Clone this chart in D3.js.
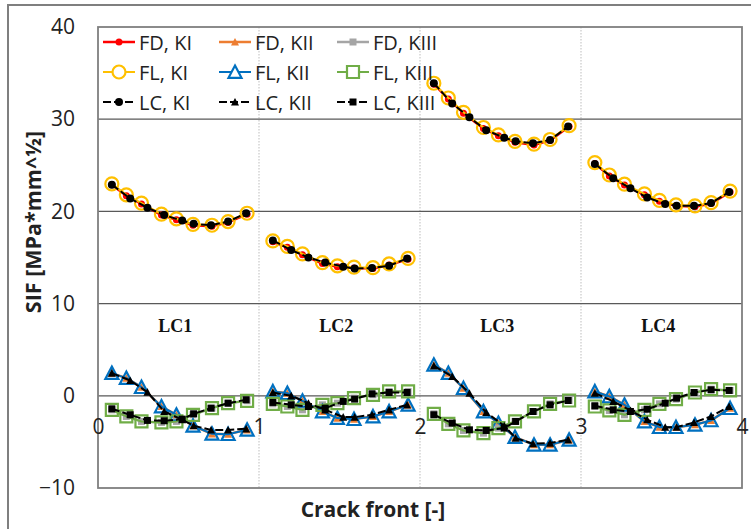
<!DOCTYPE html>
<html>
<head>
<meta charset="utf-8">
<script src="https://cdn.jsdelivr.net/npm/d3@7"></script>
<style>
  html, body { margin: 0; padding: 0; background: #fff; }
  svg { display: block; }
  .tick text { font-family: "Open Sans", sans-serif; font-size: 21px; fill: #222; }
</style>
</head>
<body>
<svg id="chart" width="751" height="529"></svg>
<script>
// Load cases along the crack front
const cases = ["LC1", "LC2", "LC3", "LC4"];
const xTicks = [0, 1, 2, 3, 4];
const yTicks = [-10, 0, 10, 20, 30, 40];

// Normalised node positions inside one crack-front segment
const nodesF = [0.086, 0.176, 0.27, 0.394, 0.487, 0.59, 0.708, 0.808, 0.926];
const nodesLC = [0.086, 0.2, 0.307, 0.411, 0.523, 0.594, 0.702, 0.808, 0.92];

// FD results, one row per load case
const FD_KI = [
  [22.9, 21.7, 20.8, 19.6, 19.1, 18.5, 18.4, 18.8, 19.7],
  [16.7, 16.1, 15.3, 14.35, 14.0, 13.85, 13.8, 14.2, 14.8],
  [33.8, 32.2, 30.65, 29.0, 28.2, 27.5, 27.2, 27.7, 29.2],
  [25.2, 23.85, 22.85, 21.8, 21.1, 20.6, 20.5, 20.85, 22.1]
];
const FD_KII = [
  [2.46, 1.92, 0.94, -1.16, -2.06, -3.25, -4.12, -4.16, -3.69],
  [0.47, 0.29, -0.54, -1.7, -2.42, -2.53, -2.24, -1.7, -0.98],
  [3.36, 2.46, 0.83, -1.7, -2.96, -4.48, -5.31, -5.31, -4.77],
  [0.47, -0.07, -0.98, -2.78, -3.4, -3.4, -3.14, -2.67, -1.34]
];
const FD_KIII = [
  [-1.52, -2.24, -2.78, -2.89, -2.78, -2.06, -1.34, -0.8, -0.54],
  [-0.87, -1.16, -1.52, -0.98, -0.8, -0.25, 0.11, 0.47, 0.47],
  [-1.95, -3.04, -3.76, -4.05, -3.5, -2.78, -1.7, -0.87, -0.51],
  [-1.16, -1.59, -2.06, -1.52, -0.87, -0.36, 0.36, 0.72, 0.58]
];

// FL results
const FL_KI = [
  [22.98, 21.8, 20.9, 19.7, 19.2, 18.6, 18.5, 18.9, 19.8],
  [16.8, 16.2, 15.4, 14.45, 14.1, 13.95, 13.9, 14.3, 14.9],
  [33.9, 32.3, 30.75, 29.1, 28.3, 27.6, 27.3, 27.8, 29.3],
  [25.3, 23.95, 22.95, 21.9, 21.2, 20.7, 20.6, 20.95, 22.2]
];
const FL_KII = [
  [2.46, 1.92, 0.94, -1.16, -2.06, -3.25, -4.12, -4.16, -3.69],
  [0.47, 0.29, -0.54, -1.7, -2.42, -2.53, -2.24, -1.7, -0.98],
  [3.36, 2.46, 0.83, -1.7, -2.96, -4.48, -5.31, -5.31, -4.77],
  [0.47, -0.07, -0.98, -2.78, -3.4, -3.4, -3.14, -2.67, -1.34]
];
const FL_KIII = [
  [-1.52, -2.24, -2.78, -2.89, -2.78, -2.06, -1.34, -0.8, -0.54],
  [-0.87, -1.16, -1.52, -0.98, -0.8, -0.25, 0.11, 0.47, 0.47],
  [-1.95, -3.04, -3.76, -4.05, -3.5, -2.78, -1.7, -0.87, -0.51],
  [-1.16, -1.59, -2.06, -1.52, -0.87, -0.36, 0.36, 0.72, 0.58]
];

// LC results
const LC_KI = [
  [22.9, 21.4, 20.4, 19.6, 19.0, 18.65, 18.5, 18.9, 19.8],
  [16.85, 15.8, 15.0, 14.45, 14.0, 13.8, 13.85, 14.1, 14.9],
  [33.9, 31.7, 30.2, 28.8, 28.0, 27.6, 27.4, 27.75, 29.2],
  [25.15, 23.6, 22.5, 21.5, 20.8, 20.6, 20.6, 20.9, 22.1]
];
const LC_KII = [
  [2.46, 1.66, 0.4, -1.7, -2.6, -3.25, -3.7, -3.7, -3.58],
  [0.36, 0.0, -0.8, -1.52, -2.31, -2.31, -2.06, -1.52, -0.98],
  [3.25, 2.1, 0.29, -1.81, -3.25, -4.59, -5.2, -5.13, -4.77],
  [0.29, -0.61, -1.59, -2.6, -3.4, -3.4, -2.89, -2.24, -1.16]
];
const LC_KIII = [
  [-1.41, -2.06, -2.67, -2.71, -2.53, -1.95, -1.34, -0.8, -0.43],
  [-0.72, -0.98, -1.16, -1.34, -0.61, -0.36, 0.22, 0.36, 0.36],
  [-2.06, -2.96, -3.69, -3.76, -3.5, -2.78, -1.7, -0.98, -0.51],
  [-1.08, -1.52, -1.7, -1.45, -0.8, -0.25, 0.36, 0.65, 0.58]
];

const legendLabels = ["FD, KI", "FD, KII", "FD, KIII", "FL, KI", "FL, KII", "FL, KIII", "LC, KI", "LC, KII", "LC, KIII"];

// Series drawing order = legend order
const series = [
  { name: legendLabels[0], data: FD_KI,   nodes: nodesF,  color: "#FF0000", width: 2.5, dash: null,  shape: "circle",   size: 7,  fill: "#FF0000", stroke: "none", sw: 0 },
  { name: legendLabels[1], data: FD_KII,  nodes: nodesF,  color: "#ED7D31", width: 2.5, dash: null,  shape: "triangle", size: 8,  fill: "#ED7D31", stroke: "none", sw: 0 },
  { name: legendLabels[2], data: FD_KIII, nodes: nodesF,  color: "#A5A5A5", width: 2.5, dash: null,  shape: "square",   size: 7,  fill: "#A5A5A5", stroke: "none", sw: 0 },
  { name: legendLabels[3], data: FL_KI,   nodes: nodesF,  color: "#FFC000", width: 2,   dash: null,  shape: "circle",   size: 13, fill: "none", stroke: "#FFC000", sw: 2.2 },
  { name: legendLabels[4], data: FL_KII,  nodes: nodesF,  color: "#0070C0", width: 2,   dash: null,  shape: "triangle", size: 13, fill: "none", stroke: "#0070C0", sw: 2.2 },
  { name: legendLabels[5], data: FL_KIII, nodes: nodesF,  color: "#70AD47", width: 2,   dash: null,  shape: "square",   size: 12, fill: "none", stroke: "#70AD47", sw: 2.2 },
  { name: legendLabels[6], data: LC_KI,   nodes: nodesLC, color: "#000000", width: 2,   dash: "8,3", shape: "circle",   size: 8,  fill: "#000000", stroke: "none", sw: 0 },
  { name: legendLabels[7], data: LC_KII,  nodes: nodesLC, color: "#000000", width: 2,   dash: "8,3", shape: "triangle", size: 8,  fill: "#000000", stroke: "none", sw: 0 },
  { name: legendLabels[8], data: LC_KIII, nodes: nodesLC, color: "#000000", width: 2,   dash: "8,3", shape: "square",   size: 7,  fill: "#000000", stroke: "none", sw: 0 }
];

const svg = d3.select("#chart");
const plot = { left: 98, right: 742, top: 27, bottom: 488 };

const x = d3.scaleLinear().domain([0, 4]).range([plot.left, plot.right]);
const y = d3.scaleLinear().domain([-10, 40]).range([plot.bottom, plot.top]);

// Outer chart frame
svg.append("rect")
  .attr("x", 8).attr("y", 5).attr("width", 800).attr("height", 600)
  .attr("fill", "#fff").attr("stroke", "#7f7f7f").attr("stroke-width", 2);

// Vertical dotted gridlines
svg.append("g").selectAll("line")
  .data(xTicks.filter(t => t > 0 && t < 4))
  .join("line")
  .attr("x1", d => x(d)).attr("x2", d => x(d))
  .attr("y1", plot.top).attr("y2", plot.bottom)
  .attr("stroke", "#c8c8c8").attr("stroke-width", 1.2)
  .attr("stroke-dasharray", "1.5,1.5");

// Horizontal gridlines
svg.append("g").selectAll("line")
  .data(yTicks.filter(t => t > -10 && t < 40))
  .join("line")
  .attr("x1", plot.left).attr("x2", plot.right)
  .attr("y1", d => y(d)).attr("y2", d => y(d))
  .attr("stroke", "#595959").attr("stroke-width", 1.3);

// Plot area border
svg.append("rect")
  .attr("x", plot.left).attr("y", plot.top)
  .attr("width", plot.right - plot.left).attr("height", plot.bottom - plot.top)
  .attr("fill", "none").attr("stroke", "#7f7f7f").attr("stroke-width", 1.8);

// Axes (labels only)
const yAxis = svg.append("g")
  .attr("transform", `translate(${plot.left},0)`)
  .call(d3.axisLeft(y).tickValues(yTicks).tickSize(0).tickPadding(23));
yAxis.select(".domain").remove();

const xAxis = svg.append("g")
  .attr("transform", `translate(0,${y(0)})`)
  .call(d3.axisBottom(x).tickValues(xTicks).tickSize(0).tickPadding(23).tickFormat(d3.format("d")));
xAxis.select(".domain").remove();

// Axis titles
svg.append("text")
  .attr("x", 373).attr("y", 509)
  .attr("text-anchor", "middle").attr("dominant-baseline", "central")
  .attr("font-family", "Open Sans, sans-serif").attr("font-weight", "bold")
  .attr("font-size", 21).attr("fill", "#222")
  .text("Crack front [-]");

svg.append("text")
  .attr("transform", "translate(32,222) rotate(-90)")
  .attr("text-anchor", "middle").attr("dominant-baseline", "central")
  .attr("font-family", "Open Sans, sans-serif").attr("font-weight", "bold")
  .attr("font-size", 21.5).attr("fill", "#222")
  .text("SIF [MPa*mm^½]");

// Load case labels
svg.append("g").selectAll("text")
  .data(cases)
  .join("text")
  .attr("x", (d, i) => x(i + 0.48))
  .attr("y", y(7.6))
  .attr("text-anchor", "middle").attr("dominant-baseline", "central")
  .attr("font-family", "Liberation Serif, serif").attr("font-weight", "bold")
  .attr("font-size", 18).attr("fill", "#111")
  .text(d => d);

// Marker shapes, centred on their bounding box
function markerPath(shape, s) {
  const h = s / 2;
  if (shape === "circle") {
    return `M${-h},0A${h},${h} 0 1,0 ${h},0A${h},${h} 0 1,0 ${-h},0Z`;
  }
  if (shape === "triangle") {
    return `M0,${-h}L${h},${h * 0.9}L${-h},${h * 0.9}Z`;
  }
  return `M${-h},${-h}H${h}V${h}H${-h}Z`;
}

const line = d3.line().x(d => x(d[0])).y(d => y(d[1]));

series.forEach(s => {
  const g = svg.append("g");
  s.data.forEach((vals, ci) => {
    const pts = vals.map((v, i) => [ci + s.nodes[i], v]);
    g.append("path")
      .datum(pts)
      .attr("d", line)
      .attr("fill", "none")
      .attr("stroke", s.color)
      .attr("stroke-width", s.width)
      .attr("stroke-dasharray", s.dash)
      .attr("stroke-linejoin", "round");
    g.selectAll(null)
      .data(pts)
      .join("path")
      .attr("transform", d => `translate(${x(d[0])},${y(d[1])})`)
      .attr("d", markerPath(s.shape, s.size))
      .attr("fill", s.fill)
      .attr("stroke", s.stroke)
      .attr("stroke-width", s.sw);
  });
});

// Legend (3 columns x 3 rows)
const legCols = [103, 219, 337];
const legRows = [42, 72, 102];
const legLineLen = 32;
const legend = svg.append("g");
series.forEach((s, i) => {
  const cx = legCols[i % 3];
  const cy = legRows[Math.floor(i / 3)];
  legend.append("line")
    .attr("x1", cx).attr("x2", cx + legLineLen)
    .attr("y1", cy).attr("y2", cy)
    .attr("stroke", s.color).attr("stroke-width", s.width)
    .attr("stroke-dasharray", s.dash);
  legend.append("path")
    .attr("transform", `translate(${cx + legLineLen / 2},${cy})`)
    .attr("d", markerPath(s.shape, s.size))
    .attr("fill", s.fill === "none" ? "#fff" : s.fill)
    .attr("stroke", s.stroke).attr("stroke-width", s.sw);
  legend.append("text")
    .attr("x", cx + legLineLen + 4).attr("y", cy)
    .attr("dominant-baseline", "central")
    .attr("font-family", "Open Sans, sans-serif")
    .attr("font-size", 20).attr("fill", "#222")
    .text(s.name);
});
</script>
</body>
</html>
